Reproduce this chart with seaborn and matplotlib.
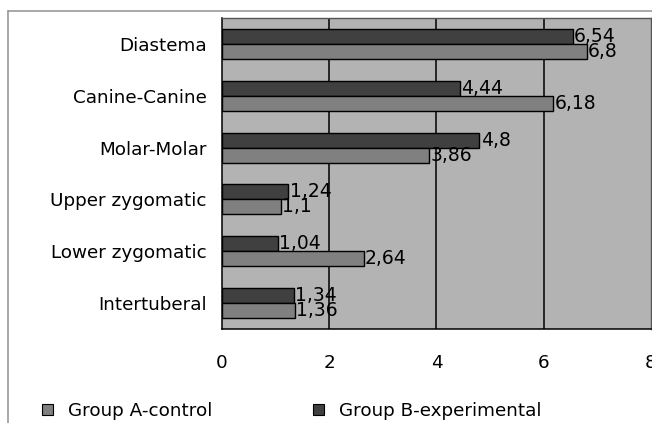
import seaborn as sns
import pandas as pd
import matplotlib.pyplot as plt
from matplotlib.patches import Patch
from matplotlib.lines import Line2D

# data
categories = ["Diastema", "Canine-Canine", "Molar-Molar",
              "Upper zygomatic", "Lower zygomatic", "Intertuberal"]
group_a = [6.8, 6.18, 3.86, 1.1, 2.64, 1.36]
group_b = [6.54, 4.44, 4.8, 1.24, 1.04, 1.34]
label_a = "Group A-control"
label_b = "Group B-experimental"
x_ticks = [0, 2, 4, 6, 8]

col_a = "#808080"
col_b = "#404040"

df = pd.DataFrame({
    "category": categories * 2,
    "value": group_b + group_a,
    "group": [label_b] * len(categories) + [label_a] * len(categories),
})

sns.set_style("white")
plt.rcParams['font.family'] = ['DejaVu Sans']
plt.rcParams['text.color'] = 'black'
plt.rcParams['xtick.color'] = 'black'
plt.rcParams['ytick.color'] = 'black'
fs = 13.2

fig = plt.figure(figsize=(6.52, 4.23), dpi=100)
ax = fig.add_axes([222 / 652, 1 - 329 / 423, (651 - 222) / 652, (329 - 18) / 423])
ax.set_facecolor("#b3b3b3")

sns.barplot(data=df, y="category", x="value", hue="group",
            hue_order=[label_b, label_a], order=categories,
            palette={label_a: col_a, label_b: col_b},
            orient="h", width=0.58, edgecolor="black", linewidth=1,
            saturation=1, legend=False, ax=ax)

# value labels with comma decimals
for cont in ax.containers:
    vals = [b.get_width() for b in cont]
    ax.bar_label(cont, labels=[f"{v:g}".replace(".", ",") for v in vals],
                 padding=1, fontsize=13.5, color="black")

ax.set_xlim(0, 8)
ax.set_ylim(5.5, -0.5)
ax.set_xticks(x_ticks)
ax.set_xticklabels([str(t) for t in x_ticks], fontsize=fs)
ax.set_yticks(range(len(categories)))
ax.set_yticklabels(categories, fontsize=fs)
ax.set_yticks([i - 0.5 for i in range(len(categories) + 1)], minor=True)
ax.tick_params(axis="y", which="major", length=0, pad=11)
ax.tick_params(axis="y", which="minor", length=6, width=1, color="black", direction="out")
ax.tick_params(axis="x", length=6, width=1, color="black", direction="out", pad=12)
ax.set_xlabel("")
ax.set_ylabel("")

for x in x_ticks[1:-1]:
    ax.axvline(x, color="black", lw=1.1, zorder=0.5)

for s in ["left", "bottom"]:
    ax.spines[s].set_color("black")
    ax.spines[s].set_linewidth(1.1)
for s in ["top", "right"]:
    ax.spines[s].set_color("#555555")
    ax.spines[s].set_linewidth(1)

# outer frame lines (top and left)
fig.add_artist(Line2D([8 / 652, 1], [1 - 11 / 423, 1 - 11 / 423],
                      transform=fig.transFigure, color="#999999", lw=1.2))
fig.add_artist(Line2D([8 / 652, 8 / 652], [0, 1 - 11 / 423],
                      transform=fig.transFigure, color="#999999", lw=1.2))

handles = [Patch(facecolor=col_a, edgecolor="black", lw=0.8),
           Patch(facecolor=col_b, edgecolor="black", lw=0.8)]
fig.legend(handles, [label_a, label_b], loc="center left",
           bbox_to_anchor=(33 / 652, 1 - 411 / 423), ncol=2, frameon=False,
           borderpad=0, handlelength=0.6, handleheight=0.6,
           handletextpad=0.8, columnspacing=5.5, fontsize=fs)

plt.savefig("out.png", dpi=100)
